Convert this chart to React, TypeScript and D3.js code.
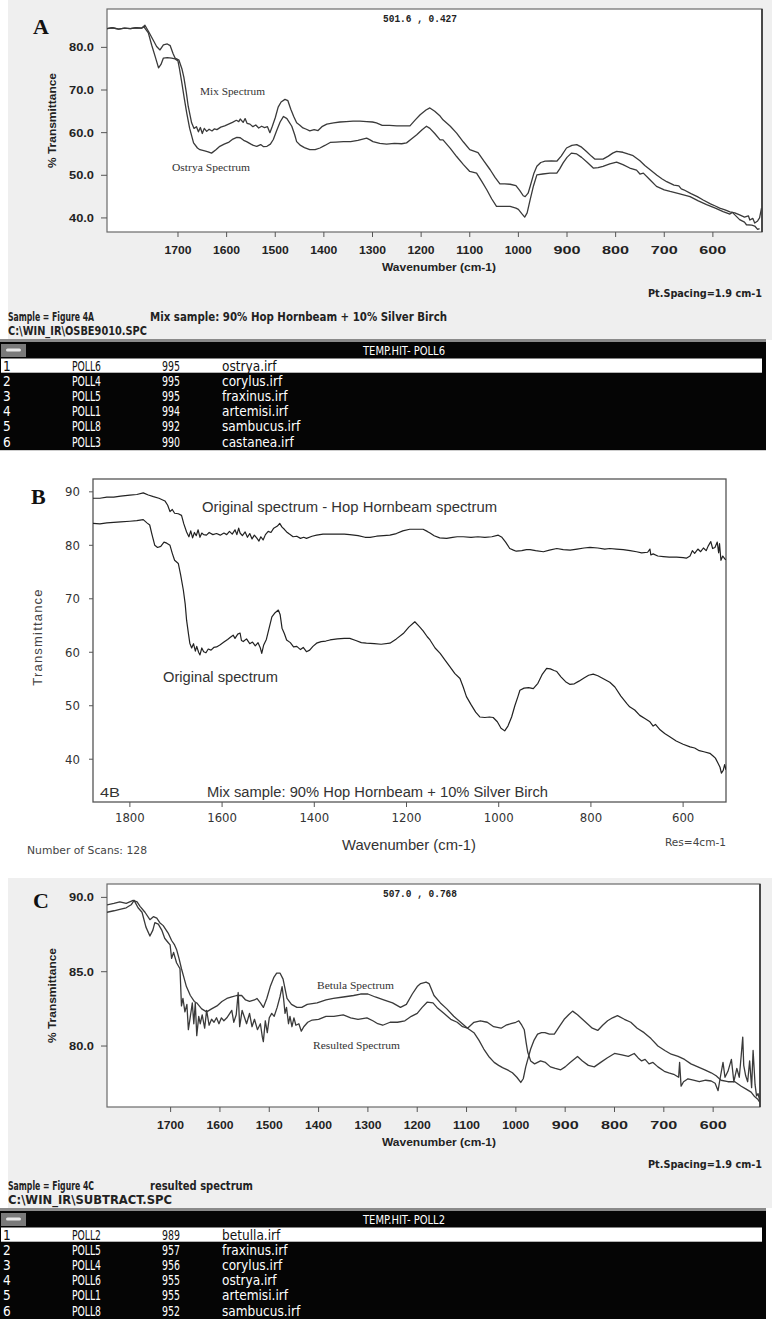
import React from "react";
import * as d3 from "d3";

type Pt = [number, number];

// ---------- Panel A data (wavenumber, %T) ----------
const mixSpectrumA: Pt[] = [[1846,84.4],[1835,84.6],[1822,84.3],[1810,84.5],[1798,84.4],[1786,84.6],[1775,84.5],[1768,85.2],[1760,83.6],[1750,81.5],[1744,80.2],[1737,79.4],[1730,80.6],[1722,80.8],[1716,80.4],[1710,78.5],[1706,77.5],[1698,77.0],[1692,75.0],[1688,73.0],[1683,69.5],[1679,66.2],[1672,62.3],[1667,61.0],[1662,61.4],[1658,60.2],[1654,61.2],[1650,59.8],[1646,61.0],[1641,60.3],[1636,60.8],[1630,60.4],[1625,60.9],[1620,60.7],[1612,61.3],[1604,61.6],[1596,62.0],[1588,62.4],[1580,62.9],[1575,62.6],[1572,63.2],[1566,62.4],[1562,63.3],[1558,62.2],[1552,62.0],[1546,61.4],[1540,61.8],[1534,61.1],[1528,61.5],[1522,61.2],[1516,61.4],[1511,60.0],[1506,61.5],[1500,63.5],[1494,66.0],[1488,67.2],[1480,67.8],[1474,67.5],[1468,65.5],[1462,63.8],[1456,62.3],[1450,61.8],[1443,61.1],[1436,60.8],[1429,60.4],[1420,60.7],[1412,60.5],[1404,61.4],[1394,62.0],[1380,62.3],[1367,62.5],[1354,62.6],[1340,62.7],[1326,62.7],[1312,62.6],[1300,62.5],[1292,62.3],[1280,61.7],[1265,61.7],[1250,61.6],[1235,61.6],[1223,61.6],[1212,63.0],[1202,64.2],[1190,65.3],[1182,65.8],[1172,65.0],[1161,63.9],[1155,63.0],[1140,61.5],[1127,59.9],[1113,57.8],[1100,56.0],[1090,55.6],[1083,55.3],[1070,53.2],[1058,51.3],[1048,49.5],[1038,48.0],[1028,48.0],[1017,47.9],[1005,47.6],[997,46.4],[990,45.2],[986,45.0],[980,45.8],[976,47.3],[968,50.5],[962,52.1],[954,53.0],[945,53.3],[932,53.4],[921,53.3],[912,54.5],[901,56.4],[890,57.0],[880,57.2],[870,56.6],[860,55.6],[850,54.5],[843,53.8],[835,53.8],[826,53.8],[815,54.5],[806,55.2],[798,55.6],[785,55.4],[775,55.0],[764,54.6],[750,53.4],[740,52.3],[729,51.3],[715,50.0],[705,49.2],[695,48.5],[680,47.7],[670,47.5],[665,46.8],[660,46.6],[645,45.7],[632,45.0],[620,44.2],[605,43.3],[595,42.8],[586,42.3],[575,41.9],[565,41.4],[555,41.2],[545,40.7],[535,40.2],[527,40.5],[524,39.5],[518,39.9],[514,38.8],[508,39.3],[504,40.0],[500,42.3]];

const ostryaSpectrumA: Pt[] = [[1846,84.4],[1835,84.6],[1822,84.3],[1810,84.5],[1798,84.4],[1786,84.6],[1775,84.5],[1770,84.8],[1761,83.4],[1754,80.5],[1747,77.9],[1740,75.2],[1735,76.0],[1730,77.5],[1722,77.6],[1713,77.5],[1706,77.3],[1700,76.8],[1697,75.0],[1692,71.6],[1687,68.0],[1682,64.6],[1676,61.0],[1668,57.6],[1660,56.4],[1655,56.0],[1645,55.7],[1638,55.5],[1631,55.2],[1622,56.0],[1614,56.8],[1605,57.3],[1595,57.8],[1587,58.5],[1579,58.9],[1572,58.8],[1565,58.2],[1559,57.9],[1550,57.3],[1545,57.0],[1538,56.8],[1530,57.2],[1524,56.7],[1517,56.8],[1510,57.3],[1504,58.4],[1497,60.5],[1490,62.5],[1483,63.8],[1476,63.3],[1466,61.5],[1460,59.5],[1456,57.9],[1448,57.0],[1440,56.5],[1429,56.0],[1418,56.0],[1408,56.4],[1398,57.0],[1387,57.7],[1375,57.8],[1360,57.9],[1345,57.9],[1330,58.2],[1320,58.5],[1312,58.7],[1305,58.3],[1299,57.9],[1285,57.5],[1271,57.3],[1255,57.5],[1240,57.4],[1230,57.6],[1220,58.5],[1209,59.5],[1198,60.7],[1189,61.5],[1182,61.0],[1172,59.8],[1161,58.3],[1155,58.3],[1140,56.3],[1127,54.4],[1113,52.5],[1100,50.9],[1086,50.5],[1075,48.5],[1065,46.6],[1055,44.5],[1045,42.7],[1030,42.7],[1017,42.7],[1005,42.3],[1000,42.0],[993,41.0],[987,40.2],[982,41.2],[976,44.2],[969,47.5],[962,50.1],[950,50.3],[935,50.5],[921,50.5],[915,51.5],[908,52.9],[900,54.2],[891,55.2],[880,55.0],[870,54.2],[858,53.0],[846,51.7],[836,51.8],[826,52.1],[812,52.7],[798,53.1],[785,52.5],[771,51.7],[757,51.2],[750,50.3],[743,50.5],[730,49.0],[716,47.4],[700,46.6],[688,46.2],[670,45.7],[647,45.0],[630,44.0],[613,43.1],[595,42.3],[579,41.5],[565,40.9],[560,41.3],[545,39.6],[535,39.0],[531,38.4],[520,38.3],[514,38.1],[508,37.3],[504,37.5]];

// ---------- Panel B data ----------
const originalSpectrumB: Pt[] = [[1880,84.1],[1865,84.0],[1850,84.2],[1835,84.3],[1820,84.4],[1800,84.5],[1785,84.6],[1771,84.8],[1763,84.2],[1757,83.8],[1752,82.0],[1746,80.0],[1740,79.6],[1733,79.8],[1726,80.6],[1720,80.4],[1713,80.0],[1708,78.5],[1703,77.2],[1695,76.6],[1690,74.5],[1684,71.6],[1680,69.0],[1677,66.0],[1673,63.5],[1670,61.7],[1666,60.8],[1662,61.6],[1658,60.2],[1655,61.1],[1651,60.0],[1648,59.5],[1644,60.8],[1640,60.1],[1635,59.9],[1630,60.6],[1624,60.4],[1618,60.9],[1612,61.0],[1604,61.4],[1596,61.9],[1588,62.4],[1582,62.8],[1576,63.2],[1572,62.6],[1566,63.4],[1561,63.6],[1558,62.2],[1554,62.0],[1547,62.5],[1540,61.6],[1534,61.9],[1528,61.2],[1522,61.8],[1517,60.8],[1514,59.8],[1510,61.3],[1504,62.4],[1498,64.5],[1492,66.6],[1485,67.4],[1478,67.9],[1474,67.0],[1470,64.5],[1465,63.5],[1460,62.3],[1452,61.8],[1445,61.0],[1438,61.1],[1430,60.5],[1424,60.9],[1417,60.1],[1410,60.4],[1403,61.1],[1395,61.7],[1385,62.0],[1375,62.1],[1366,62.3],[1350,62.5],[1335,62.6],[1323,62.6],[1310,62.2],[1298,61.8],[1287,61.7],[1270,61.6],[1255,61.5],[1236,61.7],[1222,62.5],[1207,63.5],[1195,64.7],[1182,65.7],[1172,64.8],[1164,64.0],[1155,62.9],[1149,62.3],[1138,60.8],[1127,59.8],[1116,58.5],[1106,57.3],[1095,56.0],[1084,55.1],[1077,53.5],[1070,51.7],[1060,50.2],[1050,48.8],[1041,47.9],[1030,47.8],[1020,47.9],[1012,47.8],[1003,47.0],[995,45.8],[987,45.3],[980,46.2],[972,47.9],[965,50.0],[958,51.8],[954,52.9],[945,53.3],[935,53.4],[925,53.2],[915,54.2],[906,55.8],[896,57.0],[888,56.9],[880,56.6],[874,56.4],[865,55.4],[855,54.5],[846,54.0],[836,54.1],[826,54.6],[815,55.2],[805,55.7],[795,55.9],[785,55.6],[772,55.0],[759,54.4],[748,53.5],[735,51.8],[722,50.4],[716,49.8],[705,49.2],[694,48.2],[683,47.6],[672,47.0],[665,46.2],[660,46.5],[650,45.5],[640,44.8],[629,44.2],[615,43.4],[600,42.8],[585,42.3],[575,42.1],[565,41.6],[555,41.4],[542,41.1],[535,40.6],[530,40.2],[524,39.2],[520,38.5],[517,37.4],[513,37.9],[510,39.0],[507,38.0]];

const differenceSpectrumB: Pt[] = [[1880,88.8],[1865,88.8],[1850,89.0],[1835,89.0],[1820,89.2],[1800,89.4],[1785,89.5],[1771,89.8],[1760,89.4],[1749,89.1],[1737,88.8],[1724,88.3],[1718,87.5],[1713,86.3],[1708,86.7],[1703,86.0],[1695,85.9],[1688,85.6],[1683,84.0],[1677,82.5],[1672,81.6],[1668,82.7],[1664,81.4],[1660,82.4],[1656,81.8],[1652,82.9],[1648,81.5],[1644,82.3],[1640,82.0],[1634,81.9],[1628,82.4],[1620,82.0],[1612,82.2],[1604,81.9],[1596,82.3],[1590,82.0],[1584,82.6],[1578,82.1],[1572,82.9],[1568,82.0],[1564,83.2],[1561,82.3],[1556,81.8],[1550,82.5],[1545,81.5],[1540,82.2],[1535,81.2],[1530,81.9],[1525,81.4],[1520,80.8],[1516,81.6],[1511,81.0],[1506,82.0],[1500,82.6],[1494,82.4],[1488,83.2],[1480,83.6],[1475,84.1],[1470,83.4],[1465,83.0],[1460,82.5],[1454,82.1],[1446,81.6],[1438,81.7],[1430,81.3],[1423,81.5],[1417,81.3],[1405,81.7],[1395,81.9],[1381,82.1],[1365,82.1],[1350,82.1],[1335,82.1],[1323,82.0],[1305,81.8],[1290,81.5],[1279,81.5],[1265,81.7],[1250,81.8],[1236,81.9],[1222,82.2],[1208,82.7],[1193,83.0],[1178,83.0],[1164,83.0],[1155,82.6],[1149,82.3],[1140,81.8],[1128,81.4],[1113,81.3],[1100,81.5],[1090,81.6],[1077,81.6],[1060,81.5],[1045,81.6],[1030,81.5],[1015,81.6],[1001,81.9],[993,81.5],[985,80.6],[976,79.4],[968,79.1],[962,78.9],[950,79.0],[940,79.2],[932,79.2],[920,79.0],[903,78.8],[890,79.1],[874,79.4],[860,79.2],[845,79.1],[830,79.3],[815,79.5],[802,79.6],[785,79.5],[770,79.3],[759,79.4],[745,79.3],[730,79.2],[715,79.0],[701,78.8],[690,78.6],[677,78.7],[672,79.3],[670,78.2],[665,78.4],[655,78.0],[643,77.9],[630,77.8],[614,77.8],[600,77.7],[593,77.6],[585,78.0],[580,79.0],[575,78.5],[568,79.3],[562,78.8],[556,79.5],[550,79.0],[546,79.8],[540,80.7],[536,79.4],[531,79.6],[526,80.6],[523,78.6],[521,80.3],[518,77.2],[514,78.0],[510,77.5],[507,77.3]];

// ---------- Panel C data ----------
const betulaSpectrumC: Pt[] = [[1829,89.5],[1815,89.6],[1803,89.7],[1790,89.6],[1776,89.8],[1768,89.7],[1762,89.4],[1752,89.0],[1742,88.5],[1735,88.7],[1728,88.6],[1722,88.3],[1715,88.1],[1705,87.6],[1698,87.1],[1692,86.8],[1688,86.5],[1683,85.9],[1678,85.2],[1673,84.6],[1668,84.0],[1660,83.4],[1652,83.0],[1647,82.9],[1637,82.5],[1627,82.3],[1617,82.5],[1606,82.7],[1596,83.0],[1586,83.2],[1576,83.3],[1566,83.4],[1556,83.4],[1548,83.1],[1540,83.0],[1530,83.1],[1525,83.2],[1518,82.9],[1512,82.6],[1505,83.2],[1498,84.0],[1491,84.6],[1485,84.9],[1478,84.9],[1472,84.5],[1464,83.2],[1455,82.8],[1444,82.6],[1434,82.6],[1423,82.8],[1403,82.9],[1385,83.1],[1370,83.2],[1350,83.3],[1329,83.4],[1315,83.5],[1300,83.5],[1285,83.3],[1268,83.1],[1250,82.9],[1234,82.6],[1222,82.8],[1210,83.5],[1200,84.0],[1193,84.2],[1182,84.3],[1176,84.2],[1166,83.4],[1153,82.9],[1140,82.5],[1126,82.0],[1112,81.6],[1098,81.2],[1085,80.9],[1075,80.4],[1065,79.8],[1055,79.3],[1044,78.9],[1035,78.7],[1027,78.55],[1017,78.4],[1007,78.2],[998,77.9],[990,77.55],[985,77.8],[980,78.6],[975,79.2],[970,79.8],[963,80.4],[956,80.8],[948,80.9],[941,80.9],[932,80.8],[922,80.8],[912,81.3],[902,81.8],[893,82.1],[885,82.35],[875,82.1],[865,81.8],[855,81.5],[845,81.2],[834,81.05],[824,81.4],[814,81.7],[804,81.9],[794,82.05],[780,81.8],[767,81.6],[754,81.2],[740,80.9],[726,80.5],[712,80.0],[698,79.7],[685,79.45],[671,79.3],[658,79.1],[645,78.8],[631,78.6],[617,78.4],[604,78.2],[594,78.0],[584,77.7],[570,77.6],[556,77.6],[543,77.3],[533,77.1],[523,76.9],[516,76.6],[509,76.4],[505,76.2]];

const resultedSpectrumC: Pt[] = [[1829,89.0],[1815,89.1],[1803,89.2],[1790,89.3],[1780,89.5],[1774,89.8],[1766,89.3],[1758,89.0],[1750,88.0],[1742,87.4],[1736,87.8],[1732,88.3],[1725,88.2],[1718,87.8],[1712,87.25],[1706,87.0],[1701,86.8],[1698,85.9],[1694,86.3],[1688,85.6],[1681,85.2],[1678,82.7],[1675,83.2],[1671,82.3],[1667,82.8],[1664,81.1],[1660,82.0],[1656,82.9],[1653,81.5],[1650,82.9],[1647,80.7],[1643,82.0],[1640,81.5],[1636,82.1],[1631,81.2],[1627,82.4],[1622,81.4],[1617,81.8],[1612,81.6],[1607,81.9],[1602,81.5],[1597,81.9],[1592,81.7],[1586,81.9],[1582,82.1],[1576,82.4],[1572,81.6],[1567,82.1],[1563,83.6],[1560,81.3],[1555,82.4],[1550,81.9],[1546,81.5],[1540,82.2],[1535,81.3],[1530,81.8],[1524,81.1],[1518,81.5],[1514,80.6],[1512,80.3],[1508,81.7],[1504,80.9],[1500,81.9],[1495,82.2],[1490,82.0],[1484,82.6],[1478,83.35],[1474,84.0],[1471,83.2],[1468,82.2],[1465,82.6],[1461,81.5],[1458,82.0],[1454,81.3],[1450,81.9],[1446,81.4],[1440,81.5],[1435,81.0],[1430,81.3],[1422,81.6],[1413,81.75],[1400,81.8],[1385,82.0],[1369,82.0],[1350,82.1],[1335,81.9],[1320,81.8],[1302,81.9],[1290,81.7],[1280,81.5],[1270,81.4],[1255,81.6],[1240,81.6],[1225,81.7],[1212,82.0],[1200,82.2],[1190,82.6],[1180,82.95],[1168,82.9],[1160,82.6],[1146,82.2],[1132,81.8],[1119,81.6],[1108,81.3],[1098,81.2],[1085,81.6],[1072,81.7],[1058,81.6],[1045,81.3],[1030,81.2],[1020,81.4],[1010,81.5],[1000,81.6],[994,81.7],[988,81.4],[983,81.1],[979,80.2],[976,79.6],[970,79.0],[962,78.8],[950,79.0],[940,78.9],[930,78.6],[920,78.5],[909,78.4],[900,78.6],[890,78.9],[875,79.3],[865,79.0],[853,78.7],[841,78.6],[828,78.9],[815,79.2],[800,79.5],[785,79.4],[772,79.3],[760,79.5],[752,79.2],[745,79.0],[738,79.1],[730,78.8],[722,78.9],[712,78.6],[699,78.3],[690,78.2],[680,78.1],[670,77.9],[668,78.9],[665,77.3],[660,77.6],[651,77.8],[640,77.7],[628,77.6],[615,77.7],[604,77.65],[596,77.5],[590,77.0],[586,77.8],[580,78.9],[576,77.9],[570,78.3],[563,79.1],[558,77.6],[552,78.5],[547,77.9],[543,79.4],[540,80.6],[538,78.7],[534,78.0],[530,77.6],[526,79.0],[522,77.2],[519,79.7],[515,77.4],[512,76.65],[509,76.8],[506,76.4]];

// ---------- Ticks ----------
const ticksAX = [1700, 1600, 1500, 1400, 1300, 1200, 1100, 1000, 900, 800, 700, 600];
const ticksAY = [80, 70, 60, 50, 40];
const ticksBX = [1800, 1600, 1400, 1200, 1000, 800, 600];
const ticksBY = [90, 80, 70, 60, 50, 40];
const ticksCX = [1700, 1600, 1500, 1400, 1300, 1200, 1100, 1000, 900, 800, 700, 600];
const ticksCY = [90, 85, 80];

// ---------- Search tables ----------
const hitRank = ["1", "2", "3", "4", "5", "6"];
const hitLibA = ["POLL6", "POLL4", "POLL5", "POLL1", "POLL8", "POLL3"];
const hitScoreA = ["995", "995", "995", "994", "992", "990"];
const hitFileA = ["ostrya.irf", "corylus.irf", "fraxinus.irf", "artemisi.irf", "sambucus.irf", "castanea.irf"];
const hitLibC = ["POLL2", "POLL5", "POLL4", "POLL6", "POLL1", "POLL8"];
const hitScoreC = ["989", "957", "956", "955", "955", "952"];
const hitFileC = ["betulla.irf", "fraxinus.irf", "corylus.irf", "ostrya.irf", "artemisi.irf", "sambucus.irf"];

const NARROW = "'Liberation Sans Narrow','Arial Narrow','DejaVu Sans Condensed','Liberation Sans',Arial,sans-serif";
const SANS = "'Liberation Sans',Arial,Helvetica,sans-serif";
const SERIF = "'Liberation Serif','Times New Roman',Times,serif";
const MONO = "'Liberation Mono','DejaVu Sans Mono',monospace";

type Box = { x0: number; x1: number; y0: number; y1: number };

function lineFor(x: d3.ScaleLinear<number, number>, y: d3.ScaleLinear<number, number>) {
  return d3.line<Pt>().x((d) => x(d[0])).y((d) => y(d[1]));
}

function HitTable({ top, title, lib, score, file }: { top: number; title: string; lib: string[]; score: string[]; file: string[] }) {
  const headerH = 16;
  const rowH = 15.2;
  const rows = hitRank.map((r, i) => ({ r, lib: lib[i], score: score[i], file: file[i] }));
  const bodyTop = top + 3 + headerH;
  const fs = 13.5;
  return (
    <g>
      <rect x={0} y={top} width={766} height={3} fill="#8a8a8a" />
      <rect x={0} y={top + 3} width={766} height={headerH + rowH * 6 + 1} fill="#050505" />
      <rect x={1} y={top + 5} width={25} height={headerH - 3} fill="#7a7a7a" />
      <rect x={6} y={top + 3 + headerH / 2 - 1.5} width={15} height={3} rx={1.5} fill="#e8e8e8" />
      <text x={363} y={top + 3 + headerH / 2 + 4.5} fontFamily={NARROW} fontSize={13} fill="#ffffff" textLength={82} lengthAdjust="spacingAndGlyphs">{title}</text>
      {rows.map((d, i) => {
        const y = bodyTop + i * rowH;
        const fill = i === 0 ? "#111" : "#fff";
        const ty = y + rowH / 2 + 5;
        return (
          <g key={i}>
            {i === 0 && <rect x={1} y={y + 0.5} width={761} height={rowH - 1} fill="#ffffff" />}
            <text x={3} y={ty} fontFamily={NARROW} fontSize={fs} fill={fill}>{d.r}</text>
            <text x={72} y={ty} fontFamily={NARROW} fontSize={fs} fill={fill} textLength={29} lengthAdjust="spacingAndGlyphs">{d.lib}</text>
            <text x={162} y={ty} fontFamily={NARROW} fontSize={fs} fill={fill} textLength={18} lengthAdjust="spacingAndGlyphs">{d.score}</text>
            <text x={222} y={ty} fontFamily={NARROW} fontSize={fs} fill={fill}>{d.file}</text>
          </g>
        );
      })}
    </g>
  );
}

function PanelAC(props: {
  letter: string; letterY: number; box: Box; xDomain: [number, number]; yDomain: [number, number];
  xTicks: number[]; yTicks: number[]; cursor: string; series: Pt[][];
  labels: { text: string; x: number; y: number; len: number }[];
}) {
  const { box, letter, letterY } = props;
  const x = d3.scaleLinear().domain(props.xDomain).range([box.x0, box.x1]);
  const y = d3.scaleLinear().domain(props.yDomain).range([box.y1, box.y0]);
  const line = lineFor(x, y);
  const clipId = "clip" + letter;
  return (
    <g>
      <clipPath id={clipId}>
        <rect x={box.x0} y={box.y0} width={box.x1 - box.x0} height={box.y1 - box.y0} />
      </clipPath>
      <rect x={box.x0} y={box.y0} width={box.x1 - box.x0} height={box.y1 - box.y0} fill="#ffffff" stroke="#6a6a6a" strokeWidth={1.2} />
      <line x1={box.x1} x2={box.x1} y1={box.y0} y2={box.y1} stroke="#333" strokeWidth={1.6} />
      <text x={33} y={letterY} fontFamily={SERIF} fontWeight="bold" fontSize={22} fill="#111">{letter}</text>
      <text x={383} y={box.y0 + 13} fontFamily={MONO} fontWeight="bold" fontSize={10.5} fill="#222" textLength={74} lengthAdjust="spacingAndGlyphs">{props.cursor}</text>
      {props.yTicks.map((t) => (
        <g key={"y" + t}>
          <line x1={box.x0 - 6} x2={box.x0} y1={y(t)} y2={y(t)} stroke="#555" strokeWidth={1} />
          <text x={69} y={y(t) + 4} fontFamily={SANS} fontWeight="bold" fontSize={11} fill="#222" textLength={25} lengthAdjust="spacingAndGlyphs">{t.toFixed(1)}</text>
        </g>
      ))}
      {props.xTicks.map((t) => (
        <g key={"x" + t}>
          <line x1={x(t)} x2={x(t)} y1={box.y1} y2={box.y1 + 5} stroke="#555" strokeWidth={1} />
          <text x={x(t) - 13.5} y={box.y1 + 22} fontFamily={SANS} fontWeight="bold" fontSize={11} fill="#222" textLength={27} lengthAdjust="spacingAndGlyphs">{t}</text>
        </g>
      ))}
      <text x={382} y={box.y1 + 39} fontFamily={SANS} fontWeight="bold" fontSize={11} fill="#222" textLength={114} lengthAdjust="spacingAndGlyphs">Wavenumber (cm-1)</text>
      <text transform={`translate(56,${(box.y0 + box.y1) / 2 + 47.5}) rotate(-90)`} fontFamily={SANS} fontWeight="bold" fontSize={11} fill="#222" textLength={95} lengthAdjust="spacingAndGlyphs">% Transmittance</text>
      <g clipPath={`url(#${clipId})`}>
        {props.series.map((s, i) => (
          <path key={i} d={line(s) || ""} fill="none" stroke="#3a3a3a" strokeWidth={1.3} strokeLinejoin="round" />
        ))}
      </g>
      {props.labels.map((l) => (
        <text key={l.text} x={l.x} y={l.y} fontFamily={SERIF} fontSize={11} fill="#333" textLength={l.len} lengthAdjust="spacingAndGlyphs">{l.text}</text>
      ))}
    </g>
  );
}

function PanelB() {
  const box: Box = { x0: 93, x1: 726, y0: 479, y1: 802 };
  const x = d3.scaleLinear().domain([1880, 507]).range([box.x0, box.x1]);
  const y = d3.scaleLinear().domain([32, 92.4]).range([box.y1, box.y0]);
  const line = lineFor(x, y);
  return (
    <g>
      <clipPath id="clipB">
        <rect x={box.x0} y={box.y0} width={box.x1 - box.x0} height={box.y1 - box.y0} />
      </clipPath>
      <rect x={box.x0} y={box.y0} width={box.x1 - box.x0} height={box.y1 - box.y0} fill="#ffffff" stroke="#555" strokeWidth={1.3} />
      <text x={31} y={504} fontFamily={SERIF} fontWeight="bold" fontSize={22} fill="#111">B</text>
      {ticksBY.map((t) => (
        <g key={"by" + t}>
          <line x1={box.x0 - 4} x2={box.x0} y1={y(t)} y2={y(t)} stroke="#555" />
          <text x={80} y={y(t) + 4.5} textAnchor="end" fontFamily={NARROW} fontSize={13} fill="#333">{t}</text>
        </g>
      ))}
      {ticksBX.map((t) => (
        <g key={"bx" + t}>
          <line x1={x(t)} x2={x(t)} y1={box.y1} y2={box.y1 + 5} stroke="#555" />
          <text x={x(t)} y={box.y1 + 20} textAnchor="middle" fontFamily={NARROW} fontSize={13} fill="#333">{t}</text>
        </g>
      ))}
      <text transform={`translate(42,637) rotate(-90)`} textAnchor="middle" fontFamily={SANS} fontSize={13} fill="#444" letterSpacing={1.2}>Transmittance</text>
      <text x={342} y={850} fontFamily={SANS} fontSize={14.5} fill="#333" textLength={134} lengthAdjust="spacingAndGlyphs">Wavenumber (cm-1)</text>
      <text x={27} y={854} fontFamily={NARROW} fontSize={11} fill="#444" textLength={120} lengthAdjust="spacingAndGlyphs">Number of Scans: 128</text>
      <text x={665} y={846} fontFamily={NARROW} fontSize={11} fill="#444" textLength={61} lengthAdjust="spacingAndGlyphs">Res=4cm-1</text>
      <g clipPath="url(#clipB)">
        <path d={line(differenceSpectrumB) || ""} fill="none" stroke="#222" strokeWidth={1.2} strokeLinejoin="round" />
        <path d={line(originalSpectrumB) || ""} fill="none" stroke="#222" strokeWidth={1.2} strokeLinejoin="round" />
      </g>
      <text x={202} y={512} fontFamily={SANS} fontSize={14} fill="#333" textLength={295} lengthAdjust="spacingAndGlyphs">Original spectrum - Hop Hornbeam spectrum</text>
      <text x={163} y={682} fontFamily={SANS} fontSize={14} fill="#333" textLength={115} lengthAdjust="spacingAndGlyphs">Original spectrum</text>
      <text x={100} y={797} fontFamily={SANS} fontSize={13} fill="#333" textLength={20} lengthAdjust="spacingAndGlyphs">4B</text>
      <text x={207} y={797} fontFamily={SANS} fontSize={14} fill="#333" textLength={341} lengthAdjust="spacingAndGlyphs">Mix sample: 90% Hop Hornbeam + 10% Silver Birch</text>
    </g>
  );
}

export default function App() {
  const boxA: Box = { x0: 107, x1: 762, y0: 9, y1: 232 };
  const boxC: Box = { x0: 107, x1: 760, y0: 884, y1: 1107 };
  const info = { fontFamily: NARROW, fontWeight: "bold" as const, fontSize: 12.5, fill: "#222", lengthAdjust: "spacingAndGlyphs" };
  return (
    <svg width={772} height={1319} viewBox="0 0 772 1319" style={{ position: "absolute", left: 0, top: 0, display: "block", background: "#ffffff" }}>
      <rect x={0} y={0} width={772} height={1319} fill="#ffffff" />
      {/* Panel A */}
      <rect x={8} y={0} width={764} height={340} fill="#efefef" />
      <PanelAC letter="A" letterY={34} box={boxA} xDomain={[1846, 499]} yDomain={[36.7, 89.0]} xTicks={ticksAX} yTicks={ticksAY}
        cursor="501.6 ,  0.427" series={[mixSpectrumA, ostryaSpectrumA]}
        labels={[{ text: "Mix Spectrum", x: 200, y: 95, len: 65 }, { text: "Ostrya Spectrum", x: 172, y: 171, len: 78 }]} />
      <text x={648} y={297} {...info} fontSize={10.5} textLength={114}>Pt.Spacing=1.9 cm-1</text>
      <text x={8} y={321} {...info} textLength={86}>Sample = Figure 4A</text>
      <text x={150} y={321} {...info} textLength={297}>Mix sample: 90% Hop Hornbeam + 10% Silver Birch</text>
      <text x={8} y={335} {...info} textLength={139}>{"C:\\WIN_IR\\OSBE9010.SPC"}</text>
      <HitTable top={339} title="TEMP.HIT- POLL6" lib={hitLibA} score={hitScoreA} file={hitFileA} />
      {/* Panel B */}
      <PanelB />
      {/* Panel C */}
      <rect x={8} y={878} width={764} height={330} fill="#efefef" />
      <PanelAC letter="C" letterY={908} box={boxC} xDomain={[1829, 505]} yDomain={[75.9, 90.9]} xTicks={ticksCX} yTicks={ticksCY}
        cursor="507.0 ,  0.768" series={[betulaSpectrumC, resultedSpectrumC]}
        labels={[{ text: "Betula Spectrum", x: 317, y: 989, len: 77 }, { text: "Resulted Spectrum", x: 313, y: 1049, len: 87 }]} />
      <text x={648} y={1168} {...info} fontSize={10.5} textLength={114}>Pt.Spacing=1.9 cm-1</text>
      <text x={8} y={1190} {...info} textLength={86}>Sample = Figure 4C</text>
      <text x={150} y={1190} {...info} textLength={103}>resulted spectrum</text>
      <text x={8} y={1204} {...info} textLength={164}>{"C:\\WIN_IR\\SUBTRACT.SPC"}</text>
      <HitTable top={1208} title="TEMP.HIT- POLL2" lib={hitLibC} score={hitScoreC} file={hitFileC} />
    </svg>
  );
}
